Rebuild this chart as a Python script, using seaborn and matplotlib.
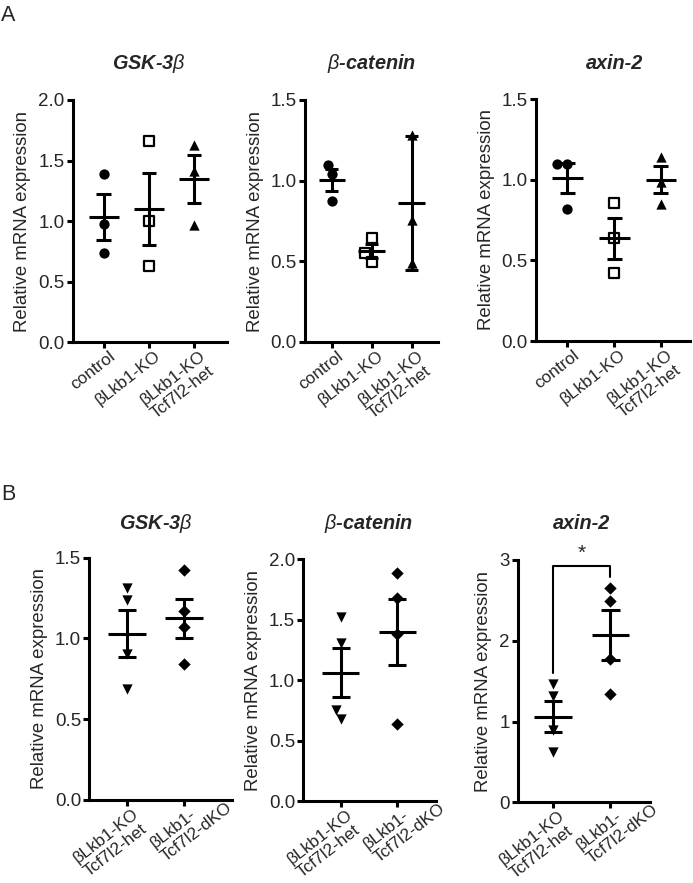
import numpy as np
import matplotlib
matplotlib.use("Agg")
import matplotlib.pyplot as plt
import matplotlib.transforms as mtransforms
import seaborn as sns
from matplotlib.font_manager import FontProperties
from matplotlib.textpath import TextToPath

# ---- data ----
groups_a = ["control", "βLkb1-KO", "βLkb1-KO\nTcf7l2-het"]
groups_b = ["βLkb1-KO\nTcf7l2-het", "βLkb1-\nTcf7l2-dKO"]

gsk_a = [[1.39, 0.98, 0.735], [1.665, 1.0, 0.633], [1.63, 1.414, 0.968]]
gsk_a_mean = [1.037, 1.10, 1.348]
gsk_a_sem = [0.19, 0.30, 0.195]

bcat_a = [[1.10, 1.04, 0.875], [0.644, 0.553, 0.495], [1.283, 0.757, 0.489]]
bcat_a_mean = [1.005, 0.564, 0.86]
bcat_a_sem = [0.067, 0.043, 0.415]

axin_a = [[1.10, 1.10, 0.82], [0.853, 0.636, 0.419], [1.143, 0.983, 0.849]]
axin_a_mean = [1.008, 0.636, 1.0]
axin_a_sem = [0.093, 0.125, 0.084]

gsk_b = [[1.31, 1.24, 0.905, 0.685], [1.424, 1.17, 1.069, 0.84]]
gsk_b_mean = [1.03, 1.125]
gsk_b_sem = [0.147, 0.12]

bcat_b = [[1.52, 1.31, 0.755, 0.68], [1.884, 1.677, 1.382, 0.634]]
bcat_b_mean = [1.062, 1.396]
bcat_b_sem = [0.203, 0.274]

axin_b = [[1.465, 1.317, 0.896, 0.627], [2.65, 2.49, 1.78, 1.337]]
axin_b_mean = [1.06, 2.07]
axin_b_sem = [0.195, 0.31]

sig_y = [1.6, 2.92, 2.79]   # bracket: start on het, top, end on dKO
sig_label = "*"

W, H = 693, 883
sns.set_theme(style="ticks")
plt.rcParams["font.family"] = ["Liberation Sans", "DejaVu Sans"]
plt.rcParams["mathtext.fontset"] = "custom"
plt.rcParams["mathtext.it"] = "Liberation Sans:italic"

LW = 2.2
ROT = 38
XTICK_FS = 12.4
YTICK_FS = 13.5
fig = plt.figure(figsize=(W / 100, H / 100), dpi=100)

markers_a = [("o", True), ("s", False), ("^", True)]
markers_b = [("v", True), ("D", True)]
marker_size = {"o": 7.4, "s": 6.6, "^": 7.4, "v": 7.4, "D": 6.3}

panels = [
    # title, groups, points, means, sems, ymax, ystep, rect(px l,t,r,b), xlim, markers, title baseline px
    ("GSK-3$\\beta$", groups_a, gsk_a, gsk_a_mean, gsk_a_sem, 2.0, 0.5,
     (72.7, 100, 227, 342.3), (-0.684, 2.73), markers_a, 69),
    ("$\\beta$-catenin", groups_a, bcat_a, bcat_a_mean, bcat_a_sem, 1.5, 0.5,
     (305, 100, 438.3, 342), (-0.67, 2.67), markers_a, 69),
    ("axin-2", groups_a, axin_a, axin_a_mean, axin_a_sem, 1.5, 0.5,
     (536, 99, 690, 341), (-0.67, 2.62), markers_a, 69),
    ("GSK-3$\\beta$", groups_b, gsk_b, gsk_b_mean, gsk_b_sem, 1.5, 0.5,
     (89.3, 557.7, 232, 800), (-0.667, 1.84), markers_b, 529),
    ("$\\beta$-catenin", groups_b, bcat_b, bcat_b_mean, bcat_b_sem, 2.0, 0.5,
     (303.3, 559.3, 435.7, 801), (-0.66, 1.68), markers_b, 529),
    ("axin-2", groups_b, axin_b, axin_b_mean, axin_b_sem, 3.0, 1.0,
     (517.7, 560, 650, 802.3), (-0.62, 1.69), markers_b, 529),
]

label_fp = FontProperties(family="Liberation Sans", size=XTICK_FS)
t2p = TextToPath()


def line_width_pt(s):
    w, _, _ = t2p.get_text_width_height_descent(s, label_fp, ismath=False)
    return w


axes = []
for title, groups, pts, means, sems, ymax, ystep, rect, xlim, mks, tb in panels:
    l, t, r, b = rect
    ax = fig.add_axes([l / W, 1 - b / H, (r - l) / W, (b - t) / H])
    ax.set_ylim(0, ymax)
    ax.set_xlim(*xlim)
    for i, vals in enumerate(pts):
        m, filled = mks[i]
        sns.swarmplot(
            x=[groups[i]] * len(vals), y=vals, order=groups, ax=ax,
            marker=m, size=marker_size[m],
            color="black" if filled else "white",
            edgecolor="black", linewidth=0 if filled else 1.6,
            zorder=2, clip_on=False,
        )
    x = np.arange(len(groups))
    means = np.array(means)
    sems = np.array(sems)
    ax.hlines(means, x - 0.33, x + 0.33, color="black", lw=LW, zorder=3)
    ax.vlines(x, means - sems, means + sems, color="black", lw=LW, zorder=3)
    ax.hlines(means + sems, x - 0.16, x + 0.16, color="black", lw=LW, zorder=3)
    ax.hlines(means - sems, x - 0.16, x + 0.16, color="black", lw=LW, zorder=3)

    ax.set_xlim(*xlim)
    ax.set_ylim(0, ymax)
    yt = np.arange(0, ymax + ystep / 2, ystep)
    ax.set_yticks(yt)
    fmt = "{:.0f}" if ystep >= 1 else "{:.1f}"
    ax.set_yticklabels([fmt.format(v) for v in yt])
    ax.set_xticks(x)
    ax.set_xticklabels([])
    ax.set_xlabel("")
    ax.set_ylabel("Relative mRNA expression", fontsize=13.4, labelpad=5)
    sns.despine(ax=ax)
    for sp in ("left", "bottom"):
        ax.spines[sp].set_linewidth(LW)
        ax.spines[sp].set_color("black")
    ax.tick_params(axis="both", direction="out", length=4.3, width=LW,
                   color="black", pad=1.5)
    ax.tick_params(axis="y", labelsize=YTICK_FS)

    # rotated two-line labels, left aligned, first line ending at the tick
    th = np.deg2rad(ROT)
    for i, lab in enumerate(groups):
        w1 = line_width_pt(lab.split("\n")[0])
        ax.annotate(lab, xy=(i, 0), xycoords=ax.get_xaxis_transform(),
                    xytext=(3.5 - w1 * np.cos(th), -4.5 - w1 * np.sin(th)),
                    textcoords="offset points", rotation=ROT,
                    rotation_mode="anchor", ha="left", va="top",
                    multialignment="left", linespacing=1.18,
                    fontsize=XTICK_FS, annotation_clip=False)

    tr = mtransforms.blended_transform_factory(ax.transData, fig.transFigure)
    ax.text(np.mean(x), 1 - tb / H, title, transform=tr,
            ha="center", va="baseline", fontsize=14.3, fontweight="bold",
            fontstyle="italic")
    axes.append(ax)

# significance bracket on the last panel
axb = axes[-1]
axb.plot([0, 0, 1, 1], [sig_y[0], sig_y[1], sig_y[1], sig_y[2]],
         color="black", lw=1.5, clip_on=False)
axb.text(0.5, sig_y[1] + 0.04, sig_label, ha="center", va="bottom",
         fontsize=15)

fig.text(1 / W, 1 - 5 / H, "A", fontsize=15.5, va="top", ha="left")
fig.text(1 / W, 1 - 484 / H, "B", fontsize=15.5, va="top", ha="left")

fig.savefig("out.png", dpi=100)
